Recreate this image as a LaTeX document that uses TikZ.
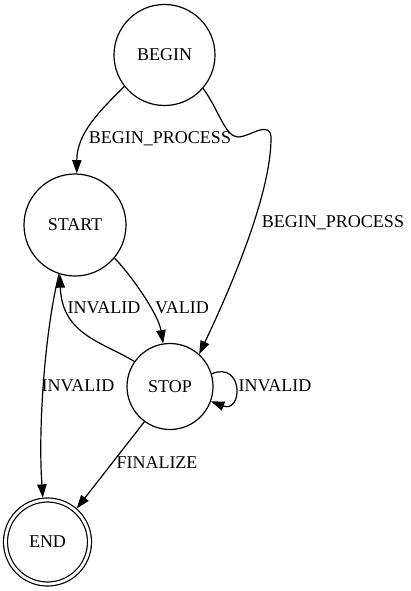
\documentclass[tikz,border=0pt]{standalone}
\usepackage{fontspec}
\setmainfont{Liberation Serif}
\usetikzlibrary{arrows.meta}
\begin{document}
\begin{tikzpicture}[x=0.75pt,y=-0.75pt,
	font=\fontsize{13.5}{15}\selectfont,
	state/.style={draw,circle,line width=0.9pt,inner sep=0pt},
	final/.style={state,double,double distance=2.1pt,outer sep=1.9pt},
	edge/.style={-{Triangle[length=10pt,width=7pt]},line width=0.9pt},
	lbl/.style={inner sep=0pt}]
		\useasboundingbox (0,0) rectangle (410,591);
		\node[state,minimum size=75.75pt] (begin) at (164.5,55) {BEGIN};
		\node[state,minimum size=76.5pt] (start) at (75,225) {START};
		\node[state,minimum size=64.5pt] (stop) at (170,386.5) {STOP};
		\node[final,minimum size=63pt] (end) at (47.5,542) {END};
		\draw[edge] (begin.218) .. controls +(-25,25) and +(0,-40) .. (start.88);
		\draw[edge] (begin.319) .. controls (218,108) and (225,137) .. (238,137)
			.. controls (250,137) and (272,118) .. (271,140)
			.. controls (270,200) and (225,300) .. (stop.48);
		\draw[edge] (start.320) .. controls +(15,15) and +(-5,-30) .. (stop.99);
		\draw[edge] (stop.145) .. controls +(-30,-19) and +(2,61) .. (start.253);
		\draw[edge] (start.252) .. controls +(-14,55) and +(-5,-70) .. (end.96);
		\draw[edge] (stop.17) .. controls +(32,-13) and +(32,12) .. (stop.340);
		\draw[edge] (stop.234) -- (end.49);
		\node[lbl] (bp1) at (160,139) {BEGIN\_PROCESS};
		\node[lbl] (bp2) at (333,223) {BEGIN\_PROCESS};
		\node[lbl] (valid) at (182,308) {VALID};
		\node[lbl] (inv1) at (104,308) {INVALID};
		\node[lbl] (inv2) at (78,386) {INVALID};
		\node[lbl] (inv3) at (275,386) {INVALID};
		\node[lbl] (fin) at (157,463) {FINALIZE};
\end{tikzpicture}
\end{document}
